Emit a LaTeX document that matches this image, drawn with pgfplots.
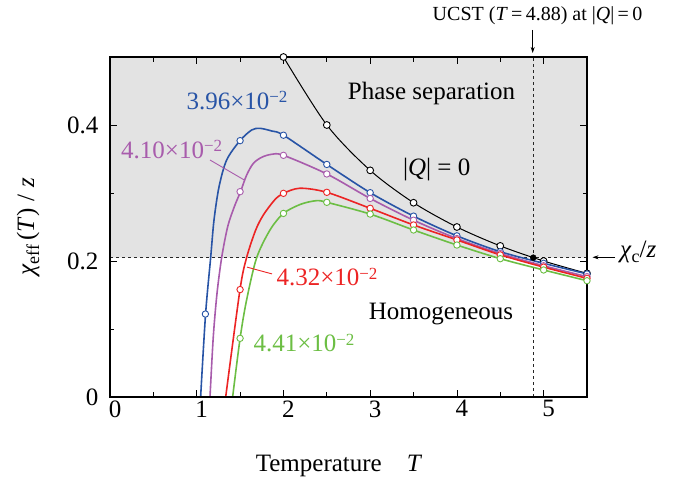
\documentclass[border=0pt]{standalone}
\usepackage{fontspec}
\setmainfont{Liberation Serif}
\usepackage{pgfplots}
\pgfplotsset{compat=1.18}
\usetikzlibrary{arrows.meta}
\definecolor{cblue}{RGB}{40,84,166}
\definecolor{cpurple}{RGB}{168,92,172}
\definecolor{cred}{RGB}{236,36,36}
\definecolor{cgreen}{RGB}{108,190,68}
\definecolor{cgray}{RGB}{227,227,227}
\newcommand{\fbig}{\fontsize{25bp}{30bp}\selectfont}
\newcommand{\tenm}{10\raisebox{6.5bp}{\fontsize{17bp}{17bp}\selectfont −2}}
\begin{document}
\begin{tikzpicture}
\path[use as bounding box] (0,0) rectangle (689bp,481bp);
\begin{axis}[
  at={(110bp,84bp)}, anchor=south west,
  scale only axis, width=477bp, height=340bp,
  xmin=0, xmax=5.5, ymin=0, ymax=0.5,
  xtick={0,1,2,3,4,5}, minor xtick={0.5,1.5,2.5,3.5,4.5},
  ytick={0,0.2,0.4}, minor ytick={0.1,0.3,0.5},
  tick align=inside, major tick length=7bp, minor tick length=4.5bp,
  every tick/.style={black, line width=0.8bp},
  axis line style={line width=1.3bp},
  xticklabel style={xshift=5bp},
  yticklabel style={xshift=-8bp},
  /pgf/number format/assume math mode=true,
  ticklabel style={font=\fbig},
  axis on top,
]
% shaded region
\addplot[draw=none, fill=cgray] coordinates {(0,0.2049) (5.5,0.2049) (5.5,0.5) (0,0.5) (0,0.2049)};
% dashed guides
\addplot[black!85, line width=0.9bp, dash pattern=on 3bp off 3bp] coordinates {(0,0.2049) (5.5,0.2049)};
\addplot[black!85, line width=0.9bp, dash pattern=on 3bp off 3bp] coordinates {(4.88,0) (4.88,0.5)};
% |Q| = 0
\addplot[black, line width=1bp, smooth] coordinates {(2,0.5) (2.5,0.4) (3,0.3333) (3.5,0.2857) (4,0.25) (4.5,0.2222) (5,0.2) (5.5,0.1818)};
% blue
\addplot[cblue, line width=1.6bp, smooth] coordinates {(1.045,0) (1.102,0.122) (1.161,0.2054) (1.199,0.260) (1.257,0.309) (1.345,0.3485) (1.499,0.377) (1.633,0.3926) (1.729,0.3951) (1.87,0.391) (2,0.385) (2.5,0.342) (3,0.3005) (3.5,0.266) (4,0.237) (4.5,0.2137) (5,0.1966) (5.5,0.181)};
% purple
\addplot[cpurple, line width=1.6bp, smooth] coordinates {(1.153,0) (1.191,0.0887) (1.234,0.1525) (1.288,0.2054) (1.357,0.2505) (1.434,0.280) (1.505,0.302) (1.576,0.3265) (1.653,0.3436) (1.749,0.3525) (1.864,0.3569) (2,0.3554) (2.5,0.328) (3,0.292) (3.5,0.260) (4,0.233) (4.5,0.211) (5,0.193) (5.5,0.177)};
% red
\addplot[cred, line width=1.6bp, smooth] coordinates {(1.334,0) (1.499,0.158) (1.576,0.2054) (1.68,0.2456) (1.77,0.268) (1.9,0.290) (2,0.2995) (2.19,0.307) (2.5,0.301) (3,0.2775) (3.5,0.253) (4,0.231) (4.5,0.209) (5,0.191) (5.5,0.1745)};
% green
\addplot[cgreen, line width=1.6bp, smooth] coordinates {(1.414,0) (1.5,0.0863) (1.575,0.1426) (1.69,0.2044) (1.845,0.2456) (2,0.270) (2.2,0.2835) (2.38,0.2887) (2.5,0.2863) (3,0.269) (3.5,0.2456) (4,0.2235) (4.5,0.2034) (5,0.1868) (5.5,0.171)};
% markers
\addplot[only marks, mark=*, mark size=3.4bp, black, mark options={fill=white, line width=0.9bp}] coordinates {(2,0.5) (2.5,0.4) (3,0.3333) (3.5,0.2857) (4,0.25) (4.5,0.2222) (5,0.2) (5.5,0.1818)};
\addplot[only marks, mark=*, mark size=3.2bp, cblue, mark options={fill=white, line width=0.9bp}] coordinates {(1.1,0.122) (1.5,0.377) (2,0.385) (2.5,0.342) (3,0.3005) (3.5,0.266) (4,0.237) (4.5,0.2137) (5,0.1966) (5.5,0.181)};
\addplot[only marks, mark=*, mark size=3.2bp, cpurple, mark options={fill=white, line width=0.9bp}] coordinates {(1.5,0.302) (2,0.3554) (2.5,0.328) (3,0.292) (3.5,0.260) (4,0.233) (4.5,0.211) (5,0.193) (5.5,0.177)};
\addplot[only marks, mark=*, mark size=3.2bp, cred, mark options={fill=white, line width=0.9bp}] coordinates {(1.5,0.158) (2,0.2995) (2.5,0.301) (3,0.2775) (3.5,0.253) (4,0.231) (4.5,0.209) (5,0.191) (5.5,0.1745)};
\addplot[only marks, mark=*, mark size=3.2bp, cgreen, mark options={fill=white, line width=0.9bp}] coordinates {(1.5,0.0863) (2,0.270) (2.5,0.2863) (3,0.269) (3.5,0.2456) (4,0.2235) (4.5,0.2034) (5,0.1868) (5.5,0.171)};
% UCST point
\addplot[only marks, mark=*, mark size=3bp, black] coordinates {(4.88,0.2049)};
% leader lines
\draw[cpurple, line width=0.9bp] (axis cs:1.153,0.3485) -- (axis cs:1.55,0.319);
\draw[cred, line width=0.9bp] (axis cs:1.58,0.191) -- (axis cs:1.868,0.181);
\end{axis}
% texts (picture coordinates)
\node[anchor=base, inner sep=0] at (431.5bp,381bp) {\fbig Phase separation};
\node[anchor=base, inner sep=0] at (436.7bp,305.3bp) {\fbig |\textit{Q}| = 0};
\node[anchor=base, inner sep=0] at (441bp,161bp) {\fbig Homogeneous};
\node[anchor=base, inner sep=0, text=cblue] at (237bp,371.7bp) {\fbig 3.96×\tenm};
\node[anchor=base, inner sep=0, text=cpurple] at (171.7bp,322.7bp) {\fbig 4.10×\tenm};
\node[anchor=base, inner sep=0, text=cred] at (327bp,195bp) {\fbig 4.32×\tenm};
\node[anchor=base, inner sep=0, text=cgreen] at (304bp,129.3bp) {\fbig 4.41×\tenm};
\node[anchor=base, inner sep=0] at (537.5bp,460.3bp) {\fontsize{20bp}{24bp}\selectfont UCST (\textit{T}\,=\,4.88) at |\textit{Q}|\,=\,0};
\draw[line width=0.8bp, -{Stealth[length=6bp,width=4bp]}] (532.7bp,451bp) -- (532.7bp,428bp);
\draw[line width=0.8bp, -{Stealth[length=6bp,width=4bp]}] (615bp,223.7bp) -- (592.5bp,223.7bp);
\node[anchor=base west, inner sep=0] at (620bp,223bp) {\fbig \textit{χ}\raisebox{-5bp}{\fontsize{18bp}{18bp}\selectfont c}/\textit{z}};
\node[anchor=base, inner sep=0] at (339bp,10bp) {\fbig Temperature\quad\textit{T}};
\node[rotate=90, anchor=center, inner sep=0] at (28bp,254bp) {\fbig \textit{χ}\raisebox{-5bp}{\fontsize{18bp}{18bp}\selectfont eff}\,(\textit{T})\;/\;\textit{z}};
\end{tikzpicture}
\end{document}
